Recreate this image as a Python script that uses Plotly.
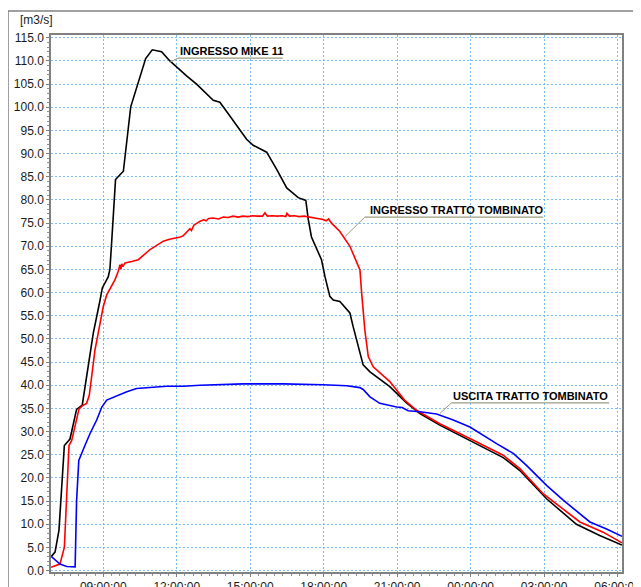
import pandas as pd
import plotly.graph_objects as go

BASE = pd.Timestamp("2000-01-01 00:00")

# Hours since midnight of the first day
mike_h = [6.87, 7.03, 7.19, 7.41, 7.64, 7.91, 8.14, 8.25, 8.46, 8.59, 8.87, 8.96, 9.20, 9.27,
          9.34, 9.41, 9.46, 9.50, 9.82, 10.0, 10.12, 10.73, 11.0, 11.38, 11.72, 12.40, 12.81,
          13.49, 13.76, 14.17, 14.85, 15.12, 15.67, 16.08, 16.49, 16.96, 17.27, 17.37, 17.50,
          17.91, 18.05, 18.25, 18.39, 18.66, 19.07, 19.20, 19.41, 19.61, 19.89, 20.70, 21.38,
          21.93, 22.74, 23.97, 25.33, 26.01, 27.10, 28.32, 29.27, 30.18]
mike_q = [3.0, 4.0, 8.7, 27.0, 28.4, 34.8, 35.7, 39.7, 46.9, 51.2, 58.4, 61.0, 63.4, 65.0,
          70.7, 76.5, 80.0, 84.4, 86.2, 94.5, 100.1, 110.5, 112.4, 112.0, 110.0, 106.8, 105.0,
          101.5, 101.1, 98.1, 93.1, 91.8, 90.3, 86.6, 82.6, 80.5, 79.9, 75.8, 72.0,
          67.1, 63.5, 59.2, 58.4, 58.1, 55.6, 52.7, 48.3, 44.4, 42.9, 39.7, 36.2,
          33.9, 31.4, 28.1, 24.4, 21.6, 15.5, 10.0, 7.6, 5.5]

ingr_h = [6.87, 7.23, 7.41, 7.51, 7.60, 7.71, 7.89, 8.01, 8.15, 8.32, 8.43, 8.53, 8.66, 8.87,
          9.0, 9.14, 9.31, 9.48, 9.61, 9.68, 9.72, 9.75, 9.80, 9.89, 10.16, 10.43, 10.91,
          11.2, 11.45, 11.7, 12.0, 12.15, 12.27, 12.4, 12.54, 12.6, 12.7, 12.8, 12.95, 13.1,
          13.2, 13.3, 13.49, 13.7, 13.9, 14.1, 14.3, 14.5, 14.7, 14.9, 15.1, 15.3, 15.5, 15.6,
          15.7, 15.9, 16.1, 16.3, 16.45, 16.5, 16.6, 16.8, 17.0, 17.2, 17.4, 17.6, 17.8,
          17.98, 18.1, 18.2, 18.32, 18.66, 19.07, 19.48, 19.55, 19.68, 19.82, 20.02, 20.70,
          21.30, 21.79, 22.74, 23.97, 24.65, 25.33, 26.01, 26.96, 28.46, 29.41, 30.18]
ingr_q = [0.7, 1.4, 5.0, 15.2, 27.0, 28.1, 32.5, 34.9, 35.6, 36.1, 37.9, 41.8, 47.6, 53.4,
          57.0, 59.5, 61.3, 62.8, 64.6, 66.0, 65.0, 66.2, 65.6, 66.4, 66.7, 67.1, 69.3,
          70.3, 71.1, 71.5, 71.8, 72.0, 72.3, 73.0, 73.8, 73.4, 74.6, 74.9, 75.4, 75.7,
          75.5, 76.0, 76.1, 75.9, 76.3, 76.2, 76.5, 76.3, 76.5, 76.4, 76.6, 76.5, 76.5, 77.2,
          76.5, 76.6, 76.5, 76.6, 76.4, 77.1, 76.5, 76.6, 76.4, 76.5, 76.3, 76.1, 76.0,
          75.8, 75.5, 75.9, 75.0, 73.2, 70.0, 64.9, 59.9, 51.9, 46.2, 44.0, 40.8,
          36.8, 34.6, 31.7, 28.5, 26.7, 24.9, 22.0, 16.6, 10.5, 8.3, 6.0]

usc_h = [6.87, 7.23, 7.51, 7.85, 7.91, 8.0, 8.25, 8.46, 8.73, 8.94, 9.14, 9.55, 9.96, 10.36,
         10.91, 11.59, 12.27, 12.95, 14.71, 16.35, 17.98, 18.94, 19.48, 19.61, 19.89, 20.29,
         20.98, 21.20, 21.45, 21.93, 22.61, 23.29, 23.97, 24.51, 25.06, 25.74, 26.28, 27.10,
         27.78, 28.87, 29.55, 30.18]
usc_q = [3.1, 1.4, 0.9, 0.8, 15.1, 23.8, 27.0, 29.6, 32.5, 35.3, 36.8, 37.7, 38.6, 39.3,
         39.5, 39.8, 39.8, 40.0, 40.3, 40.3, 40.1, 39.9, 39.5, 39.1, 37.5, 36.1,
         35.3, 35.2, 34.5, 34.3, 33.8, 32.5, 31.0, 29.2, 27.4, 25.3, 22.7, 18.4,
         15.2, 10.5, 9.0, 7.4]

series_names = ["INGRESSO MIKE 11", "INGRESSO TRATTO TOMBINATO", "USCITA TRATTO TOMBINATO"]
series_colors = ["#000000", "#ff0000", "#0000ff"]


def t(h):
    return BASE + pd.to_timedelta(h, unit="h")


def ts(hs):
    return [t(h) for h in hs]


fig = go.Figure()
for hs, qs, name, col in [(mike_h, mike_q, series_names[0], series_colors[0]),
                          (ingr_h, ingr_q, series_names[1], series_colors[1]),
                          (usc_h, usc_q, series_names[2], series_colors[2])]:
    fig.add_trace(go.Scatter(x=ts(hs), y=qs, mode="lines", name=name,
                             line=dict(color=col, width=1.6)))

# labels: (text x, text y, underline x0, x1, underline y, leader end x, leader end y)
labels = [
    (12.13, 112.1, 12.05, 16.33, 110.6, 11.72, 109.7),
    (19.886, 77.9, 19.68, 26.96, 76.3, 18.87, 72.1),
    (23.26, 37.66, 23.22, 29.65, 36.2, 22.74, 33.9),
]
lab_col = "#9c9c84"
for name, (tx, ty, ux0, ux1, uy, lx, ly) in zip(series_names, labels):
    fig.add_annotation(x=t(tx), y=ty, text="<b>" + name + "</b>", showarrow=False,
                       xanchor="left", yanchor="middle", xshift=-2,
                       font=dict(family="Arial, Liberation Sans", size=11, color="#000"))
    fig.add_shape(type="line", x0=t(ux0), x1=t(ux1), y0=uy, y1=uy,
                  line=dict(color=lab_col, width=1.2))
    fig.add_shape(type="line", x0=t(ux0), x1=t(lx), y0=uy, y1=ly,
                  line=dict(color=lab_col, width=1))

grid_col = "#7dbdf5"
fig.update_xaxes(range=[t(6.865), t(30.18)], type="date", automargin=False,
                 ticklabeloverflow="allow",
                 tick0=BASE, dtick=3 * 3600 * 1000, tickformat="%H:%M:%S",
                 showgrid=True, gridcolor=grid_col, griddash="2px,2px", gridwidth=1,
                 showline=True, linecolor="#808080", linewidth=1.5, mirror=True,
                 ticks="outside", ticklen=3, tickcolor="#808080",
                 minor=dict(dtick=20 * 60 * 1000, ticks="outside", ticklen=2, tickcolor="#909090",
                            showgrid=False),
                 tickfont=dict(family="Arial, Liberation Sans", size=12, color="#1a1a1a"),
                 zeroline=False)
fig.update_yaxes(range=[-0.3, 115.6], tick0=0, dtick=5, tickformat=".1f", automargin=False,
                 ticklabeloverflow="allow",
                 showgrid=True, gridcolor=grid_col, griddash="2px,2px", gridwidth=1,
                 showline=True, linecolor="#808080", linewidth=1.5, mirror=True,
                 ticks="outside", ticklen=3, tickcolor="#808080",
                 minor=dict(dtick=1, ticks="outside", ticklen=2, tickcolor="#909090",
                            showgrid=False),
                 tickfont=dict(family="Arial, Liberation Sans", size=12, color="#1a1a1a"),
                 zeroline=False)

# unit label
fig.add_annotation(xref="paper", yref="paper", x=-0.058, y=1.028, text="[m3/s]",
                   showarrow=False, xanchor="left", yanchor="middle",
                   font=dict(family="Arial, Liberation Sans", size=12, color="#1a1a1a"))
# outer frame
fig.add_shape(type="line", xref="paper", yref="paper", x0=-0.0753, x1=1.05, y0=1.0448, y1=1.0448,
              line=dict(color="#808080", width=1.5))
fig.add_shape(type="line", xref="paper", yref="paper", x0=-0.0753, x1=-0.0753, y0=1.0448, y1=-0.1,
              line=dict(color="#808080", width=1.5))

fig.update_layout(width=633, height=579, margin=dict(l=43, r=19, t=27, b=15),
                  paper_bgcolor="white", plot_bgcolor="white", showlegend=False)

fig.write_html("out.html")
